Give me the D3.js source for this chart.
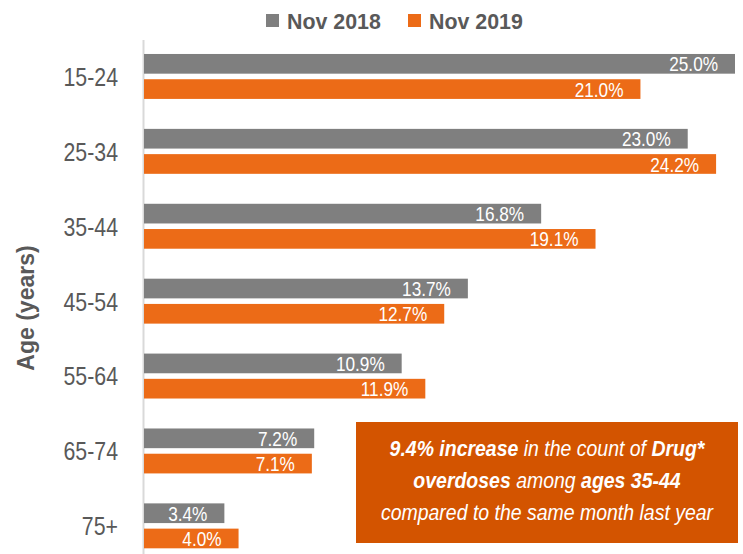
<!DOCTYPE html>
<html>
<head>
<meta charset="utf-8">
<script src="https://cdn.jsdelivr.net/npm/d3@7"></script>
<style>
  html, body { margin: 0; padding: 0; background: #fff; }
  svg { display: block; }
  text { font-family: "Liberation Sans Narrow", "Arial Narrow", "Liberation Sans", Arial, sans-serif; }
</style>
</head>
<body>
<svg id="chart" width="743" height="554"></svg>
<script>
const categories = ["15-24", "25-34", "35-44", "45-54", "55-64", "65-74", "75+"];
const seriesNames = ["Nov 2018", "Nov 2019"];
const nov2018 = [25.0, 23.0, 16.8, 13.7, 10.9, 7.2, 3.4];
const nov2019 = [21.0, 24.2, 19.1, 12.7, 11.9, 7.1, 4.0];
const seriesColors = ["#7f7f7f", "#ec6b17"];
const axisTitle = "Age (years)";

const svg = d3.select("#chart");
const W = 743, H = 554;
const left = 144, right = 735;

const x = d3.scaleLinear().domain([0, 25]).range([left, right]);
const y = d3.scaleBand().domain(categories).range([39, 563.3]).padding(0);
const inner = d3.scaleBand().domain(seriesNames)
  .range([y.bandwidth() * 0.2, y.bandwidth() * 0.8]).paddingInner(0.22);

const data = [nov2018, nov2019];

// condensed text helper (horizontal squeeze around anchor point)
function placed(sel, px, py, sx) {
  return sel.attr("x", 0).attr("y", 0)
    .attr("transform", `translate(${px},${py}) scale(${sx},1)`);
}

// axis line
svg.append("line")
  .attr("x1", left - 0.5).attr("x2", left - 0.5)
  .attr("y1", 40).attr("y2", H)
  .attr("stroke", "#d9d9d9").attr("stroke-width", 2);

// bars
seriesNames.forEach((s, si) => {
  const g = svg.append("g");
  g.selectAll("rect").data(categories).join("rect")
    .attr("x", x(0))
    .attr("y", c => y(c) + inner(s))
    .attr("width", (c, i) => x(data[si][i]) - x(0))
    .attr("height", inner.bandwidth())
    .attr("fill", seriesColors[si]);
  g.selectAll("text").data(categories).join("text")
    .attr("x", 0).attr("y", 0)
    .attr("transform", (c, i) =>
      `translate(${x(data[si][i]) - 17},${y(c) + inner(s) + inner.bandwidth() / 2}) scale(0.82,1)`)
    .attr("dy", "0.36em")
    .attr("text-anchor", "end")
    .attr("fill", "#fff")
    .attr("font-size", 21)
    .text((c, i) => data[si][i].toFixed(1) + "%");
});

// category labels
const yAxis = d3.axisLeft(y).tickSize(0).tickPadding(0);
const ax = svg.append("g").attr("transform", `translate(118,0)`).call(yAxis);
ax.select(".domain").remove();
ax.selectAll("text")
  .attr("font-size", 26)
  .attr("fill", "#595959")
  .attr("font-family", null)
  .attr("x", 0)
  .attr("dy", "0.36em")
  .attr("transform", "scale(0.82,1)");

// axis title
svg.append("text")
  .attr("transform", "translate(34,308) rotate(-90)")
  .attr("text-anchor", "middle")
  .attr("font-size", 23)
  .attr("font-weight", "bold")
  .attr("fill", "#595959")
  .text(axisTitle);

// legend
const legendX = [266, 408];
seriesNames.forEach((s, i) => {
  svg.append("rect")
    .attr("x", legendX[i]).attr("y", 14)
    .attr("width", 13).attr("height", 13)
    .attr("fill", seriesColors[i]);
  placed(svg.append("text"), legendX[i] + 21, 21, 0.93)
    .attr("dy", "0.36em")
    .attr("font-size", 23)
    .attr("font-weight", "bold")
    .attr("fill", "#595959")
    .text(s);
});

// annotation box
svg.append("rect")
  .attr("x", 356).attr("y", 422)
  .attr("width", 382).attr("height", 121)
  .attr("fill", "#d35400");

const lines = [
  [["9.4% increase", true], [" in the count of ", false], ["Drug*", true]],
  [["overdoses", true], [" among ", false], ["ages 35-44", true]],
  [["compared to the same month last year", false]]
];
const lineY = [448, 480, 512];
lines.forEach((parts, li) => {
  const t = placed(svg.append("text"), 547, lineY[li], 0.885)
    .attr("dy", "0.36em")
    .attr("text-anchor", "middle")
    .attr("font-size", 22)
    .attr("font-style", "italic")
    .attr("fill", "#fff");
  parts.forEach(([str, bold]) => {
    t.append("tspan").attr("font-weight", bold ? "bold" : "normal").text(str);
  });
});
</script>
</body>
</html>
